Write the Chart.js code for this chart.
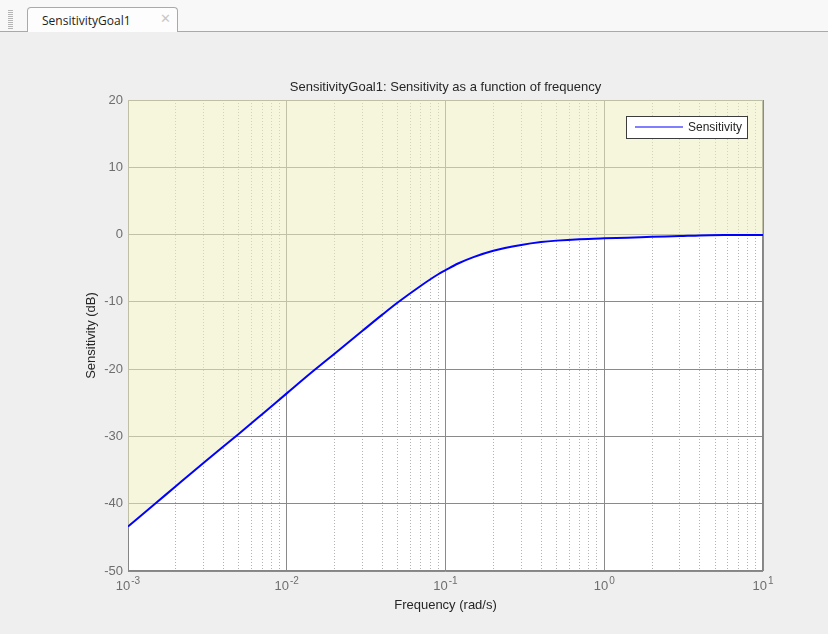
<!DOCTYPE html>
<html>
<head>
<meta charset="utf-8">
<script src="https://cdn.jsdelivr.net/npm/chart.js@4.4.1/dist/chart.umd.min.js"></script>
<style>
html,body{margin:0;padding:0;background:#efefef;width:828px;height:634px;overflow:hidden;}
#wrap{position:relative;width:828px;height:634px;}
#topbar{position:absolute;left:0;top:0;width:828px;height:31px;background:#f8f8f8;border-bottom:1px solid #a9a9a9;}
#grip{position:absolute;left:8px;top:10px;width:5px;height:19px;background:repeating-linear-gradient(to bottom,#b5b5b5 0 1px,transparent 1px 2px);}
#tab{position:absolute;left:27px;top:7px;width:151px;height:25px;background:#fdfdfd;border:1px solid #a9a9a9;border-bottom:none;border-radius:4px 4px 0 0;box-sizing:border-box;}
#tab span.t{position:absolute;left:14px;top:4px;font-family:"Open Sans","Noto Sans",sans-serif;font-size:12px;color:#1e1e1e;}
#tab span.x{position:absolute;left:132px;top:3px;font-family:"DejaVu Sans",sans-serif;font-size:13px;font-weight:bold;color:#c8c8c8;}
canvas{position:absolute;left:0;top:0;}
</style>
</head>
<body>
<div id="wrap">
  <div id="topbar"><div id="grip"></div></div>
  <div id="tab"><span class="t">SensitivityGoal1</span><span class="x">✕</span></div>
  <canvas id="c" width="828" height="634"></canvas>
</div>
<script>
// ---- data ----
const freqs = [0.001, 0.0015, 0.002, 0.003, 0.005, 0.007, 0.01, 0.015, 0.02, 0.03, 0.04, 0.05, 0.07, 0.09, 0.1, 0.12, 0.15, 0.2, 0.3, 0.4, 0.5, 0.7, 1, 1.4, 2, 3, 4, 6, 10];
const sensitivityDb = [-43.4, -39.9, -37.4, -33.9, -29.6, -26.7, -23.6, -20.1, -17.7, -14.3, -11.9, -10.1, -7.6, -5.9, -5.3, -4.3, -3.35, -2.4, -1.55, -1.12, -0.9, -0.68, -0.55, -0.46, -0.34, -0.22, -0.12, -0.07, -0.05];
const xTickValues = [
  0.001,0.002,0.003,0.004,0.005,0.006,0.007,0.008,0.009,
  0.01,0.02,0.03,0.04,0.05,0.06,0.07,0.08,0.09,
  0.1,0.2,0.3,0.4,0.5,0.6,0.7,0.8,0.9,
  1,2,3,4,5,6,7,8,9,10
];
const xMajorExponents = [-3, -2, -1, 0, 1];
const yTickValues = [20, 10, 0, -10, -20, -30, -40, -50];
const seriesLabel = 'Sensitivity';
const chartTitle = 'SensitivityGoal1: Sensitivity as a function of frequency';
const xTitle = 'Frequency (rad/s)';
const yTitle = 'Sensitivity (dB)';

const FONT = "'Liberation Sans', Arial, Helvetica, sans-serif";
function isMajor(v){ const l = Math.log10(v); return Math.abs(l - Math.round(l)) < 1e-9; }

const areaBg = {
  id: 'areaBg',
  beforeDraw(chart){
    const {ctx, chartArea:a} = chart;
    ctx.save(); ctx.fillStyle = '#ffffff';
    ctx.fillRect(a.left, a.top, a.right - a.left, a.bottom - a.top);
    ctx.restore();
  },
  beforeDatasetsDraw(chart){
    const {ctx, chartArea:a} = chart;
    ctx.save(); ctx.strokeStyle = '#858585'; ctx.lineWidth = 1;
    ctx.strokeRect(a.left + 0.5, a.top + 0.5, a.right - a.left - 1, a.bottom - a.top - 1);
    ctx.restore();
  }
};

// x tick labels as 10 with a raised exponent
const powLabels = {
  id: 'powLabels',
  afterDraw(chart){
    const {ctx} = chart;
    const xs = chart.scales.x;
    const base = xs.top + 19;
    ctx.save();
    ctx.fillStyle = '#6e6e6e';
    ctx.textBaseline = 'alphabetic'; ctx.textAlign = 'left';
    xMajorExponents.forEach(e => {
      const px = xs.getPixelForValue(Math.pow(10, e));
      ctx.font = '13px ' + FONT;
      const w1 = ctx.measureText('10').width;
      ctx.font = '10px ' + FONT;
      const es = (e < 0 ? '-' : '') + Math.abs(e);
      const w2 = ctx.measureText(es).width;
      const x0 = px - (w1 + w2 + 1) / 2;
      ctx.font = '13px ' + FONT;
      ctx.fillText('10', x0, base);
      ctx.font = '10px ' + FONT;
      ctx.fillText(es, x0 + w1 + 1, base - 6);
    });
    ctx.restore();
  }
};

const boxLegend = {
  id: 'boxLegend',
  afterDatasetsDraw(chart){
    const {ctx, chartArea:a} = chart;
    const ds = chart.data.datasets[0];
    const w = 122, h = 23;
    const x = a.right - 137, y = a.top + 16;
    ctx.save();
    ctx.fillStyle = '#ffffff';
    ctx.fillRect(x, y, w, h);
    ctx.strokeStyle = '#3c3c3c'; ctx.lineWidth = 1;
    ctx.strokeRect(x + 0.5, y + 0.5, w - 1, h - 1);
    ctx.strokeStyle = ds.borderColor; ctx.lineWidth = 1;
    ctx.beginPath(); ctx.moveTo(x + 9, y + 11); ctx.lineTo(x + 57, y + 11); ctx.stroke();
    ctx.fillStyle = '#262626'; ctx.font = '12px ' + FONT;
    ctx.textBaseline = 'middle'; ctx.textAlign = 'left';
    ctx.fillText(ds.label, x + 62, y + 11.5);
    ctx.restore();
  }
};

new Chart(document.getElementById('c'), {
  type: 'line',
  data: {
    datasets: [{
      label: seriesLabel,
      data: freqs.map((f, i) => ({x: f, y: sensitivityDb[i]})),
      borderColor: '#0000ff',
      borderWidth: 2,
      pointRadius: 0,
      cubicInterpolationMode: 'monotone',
      fill: 'end',
      backgroundColor: 'rgba(238,238,192,0.55)'
    }]
  },
  options: {
    responsive: false,
    animation: false,
    layout: {padding: {left: 0, right: 65, top: 0, bottom: 0}},
    plugins: {
      legend: {display: false},
      tooltip: {enabled: false},
      title: {
        display: true, text: chartTitle, fullSize: false,
        color: '#262626', font: {family: FONT, size: 13, weight: 'normal', lineHeight: 1.2},
        padding: {top: 80, bottom: 4.4}
      }
    },
    scales: {
      x: {
        type: 'logarithmic', min: 0.001, max: 10,
        afterBuildTicks(scale){ scale.ticks = xTickValues.map(v => ({value: v})); },
        afterFit(scale){ scale.height = 63; },
        ticks: {
          autoSkip: false, maxRotation: 0, minRotation: 0, padding: 6,
          color: '#6e6e6e', font: {family: FONT, size: 13},
          callback(){ return ''; }
        },
        grid: {
          drawTicks: false,
          color: (c) => (c.tick && !isMajor(c.tick.value)) ? '#b2b2b2' : '#8a8a8a',
          lineWidth: 1
        },
        border: {display: false, dash: (c) => (c.tick && !isMajor(c.tick.value)) ? [1, 2] : []},
        title: {display: true, text: xTitle, color: '#262626', font: {family: FONT, size: 13}, padding: {top: 0, bottom: 21}}
      },
      y: {
        type: 'linear', min: -50, max: 20,
        afterBuildTicks(scale){ scale.ticks = yTickValues.map(v => ({value: v})); },
        afterFit(scale){ scale.width = 128; },
        ticks: {padding: 5, color: '#6e6e6e', font: {family: FONT, size: 13}},
        grid: {drawTicks: false, color: '#8a8a8a', lineWidth: 1},
        border: {display: false},
        title: {display: true, text: yTitle, color: '#262626', font: {family: FONT, size: 13}, padding: {top: 84, bottom: 0}}
      }
    }
  },
  plugins: [areaBg, powLabels, boxLegend]
});
</script>
</body>
</html>
